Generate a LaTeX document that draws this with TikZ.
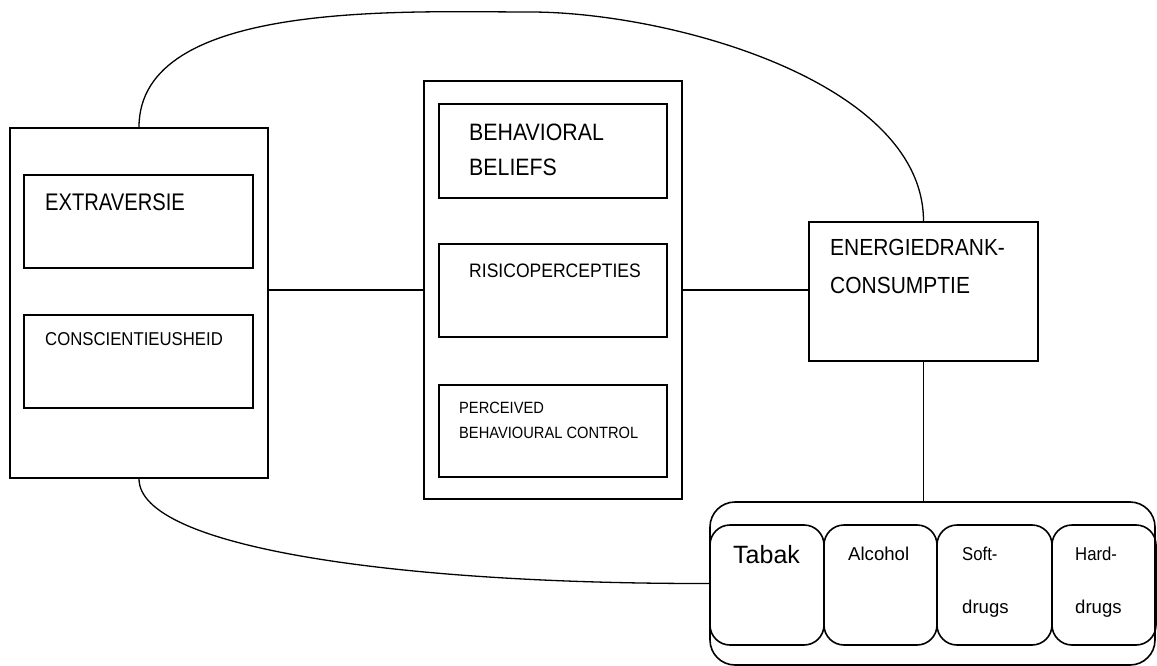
\documentclass[tikz,border=0pt]{standalone}
\usepackage{fontspec}
\setmainfont{Liberation Sans}[FakeStretch=0.9]
\newfontfamily\narrowfont{Liberation Sans}[FakeStretch=0.84]
\newfontfamily\widefont{Liberation Sans}[FakeStretch=1.0]
\begin{document}
\begin{tikzpicture}[x=1pt,y=-1pt,
  box/.style={draw,line width=1.6pt,inner sep=0pt,minimum width=#1},
  rbox/.style={draw,line width=1.6pt,inner sep=0pt,rounded corners=20pt},
  lbl/.style={anchor=base west,inner sep=0pt,align=left},
  conn/.style={line width=1.6pt},
  curve/.style={line width=1.3pt}]
\useasboundingbox (0,0) rectangle (1157,666);
% left group
\node[box=258pt,minimum height=350pt] (L) at (139,303) {};
\node[box=229pt,minimum height=93pt] (ext) at (138.5,221.5) {};
\node[box=229pt,minimum height=93pt] (con) at (138.5,361.5) {};
% middle group
\node[box=258pt,minimum height=418pt] (M) at (553,290) {};
\node[box=228pt,minimum height=94pt] (bb) at (553,151) {};
\node[box=228pt,minimum height=93pt] (risk) at (553,290.5) {};
\node[box=228pt,minimum height=92pt] (pbc) at (553,431) {};
% energy
\node[box=229pt,minimum height=139pt] (en) at (923.5,291.5) {};
% substances
\node[rbox,rounded corners=25pt,minimum width=445pt,minimum height=163pt] (cont) at (932.5,583.5) {};
\node[rbox,minimum width=114pt,minimum height=120pt] (tab) at (767,585) {};
\node[rbox,minimum width=113pt,minimum height=120pt] (alc) at (880.5,585) {};
\node[rbox,minimum width=115pt,minimum height=120pt] (soft) at (994.5,585) {};
\node[rbox,minimum width=104pt,minimum height=120pt] (hard) at (1104,585) {};
% labels
\node[lbl,font=\narrowfont\fontsize{24}{28}\selectfont] (text) at (45,211) {EXTRAVERSIE};
\node[lbl,font=\fontsize{18.6}{22}\selectfont] (tcon) at (45,345) {CONSCIENTIEUSHEID};
\node[lbl,font=\fontsize{23.7}{28}\selectfont] (tbb) at (469,141) {\vtop{\baselineskip=35pt\hbox{BEHAVIORAL}\hbox{BELIEFS}}};
\node[lbl,font=\fontsize{19.5}{23}\selectfont] (trisk) at (469,277) {RISICOPERCEPTIES};
\node[lbl,font=\fontsize{16.3}{20}\selectfont] (tpbc) at (459,413) {\vtop{\baselineskip=25pt\hbox{PERCEIVED}\hbox{BEHAVIOURAL CONTROL}}};
\node[lbl,font=\fontsize{23.3}{28}\selectfont] (ten) at (830,255) {\vtop{\baselineskip=38pt\hbox{ENERGIEDRANK-}\hbox{CONSUMPTIE}}};
\node[lbl,font=\widefont\fontsize{25}{30}\selectfont] (ttab) at (733,563) {Tabak};
\node[lbl,font=\widefont\fontsize{18.6}{22}\selectfont] (talc) at (848,560) {Alcohol};
\node[lbl,font=\fontsize{18.6}{22}\selectfont] (tsoft) at (962,560) {\vtop{\baselineskip=53pt\hbox{Soft-}\hbox{\widefont drugs}}};
\node[lbl,font=\fontsize{18.6}{22}\selectfont] (thard) at (1075,560) {\vtop{\baselineskip=53pt\hbox{Hard-}\hbox{\widefont drugs}}};
% connectors
\draw[conn] (M.west) -- (M.west -| L.east);
\draw[conn] (M.east) -- (M.east -| en.west);
\draw[conn] (en.south) -- (en.south |- cont.north);
\coordinate (apex) at (530,12);
\draw[curve] (L.north) to[out=90,in=180,looseness=0.8] (apex) to[out=0,in=90,looseness=0.8] (en.north);
\draw[curve] (L.south) .. controls (139,548) and (400,584) .. (cont.west);
\end{tikzpicture}
\end{document}
